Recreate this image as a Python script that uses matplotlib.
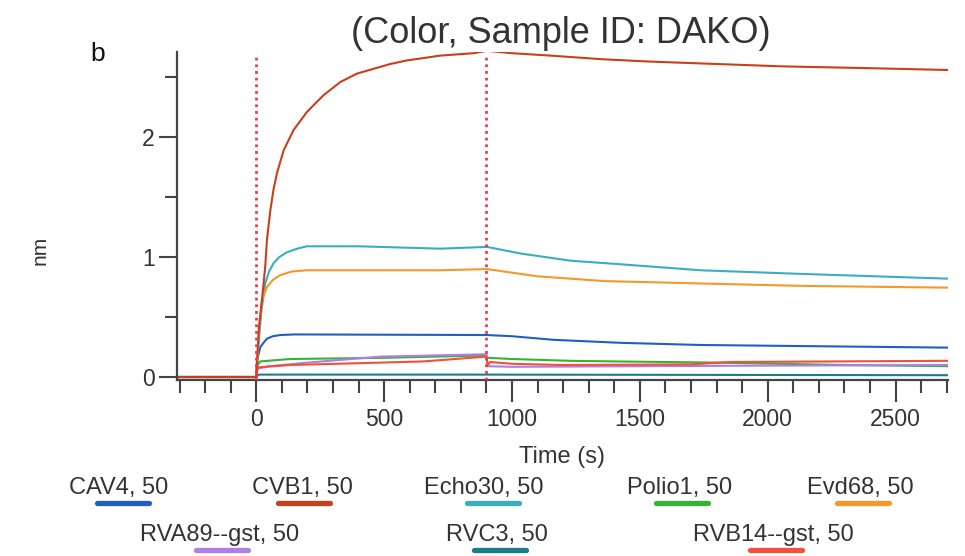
import numpy as np
import matplotlib.pyplot as plt

plt.rcParams['font.family'] = ['Liberation Sans', 'DejaVu Sans']

# values (time in s, response in nm)
cav4_t = [-310, 0, 3, 16, 30, 42, 65, 94, 150, 902, 1000, 1163, 1424, 1737, 2128, 2705]
cav4_y = [0, 0, 0.14, 0.25, 0.29, 0.32, 0.34, 0.35, 0.355, 0.35, 0.34, 0.31, 0.285, 0.267, 0.258, 0.245]

cvb1_t = [-310, 0, 5, 10, 22, 35, 42, 55, 68, 81, 107, 146, 198, 263, 329, 394, 459, 524, 590, 720, 850, 902,
          1000, 1150, 1350, 1541, 1800, 2062, 2400, 2705]
cvb1_y = [0, 0, 0.2, 0.4, 0.64, 0.92, 1.15, 1.39, 1.57, 1.7, 1.89, 2.06, 2.21, 2.35, 2.46, 2.53, 2.57, 2.61, 2.64, 2.68, 2.70, 2.72,
          2.70, 2.68, 2.65, 2.63, 2.61, 2.59, 2.575, 2.56]

echo30_t = [-310, 0, 8, 20, 35, 50, 68, 90, 120, 160, 198, 400, 720, 902, 1033, 1228, 1424, 1737, 2128, 2705]
echo30_y = [0, 0, 0.25, 0.55, 0.78, 0.88, 0.95, 1.0, 1.04, 1.07, 1.09, 1.09, 1.07, 1.085, 1.03, 0.97, 0.94, 0.89, 0.86, 0.82]

polio1_t = [-310, 0, 5, 16, 133, 500, 900, 905, 1000, 1228, 1400, 1800, 2300, 2705]
polio1_y = [0, 0, 0.1, 0.13, 0.15, 0.16, 0.18, 0.16, 0.15, 0.135, 0.13, 0.12, 0.1, 0.09]

evd68_t = [-310, 0, 8, 22, 42, 65, 94, 140, 198, 720, 902, 1098, 1359, 1737, 2128, 2705]
evd68_y = [0, 0, 0.33, 0.64, 0.75, 0.81, 0.85, 0.88, 0.89, 0.89, 0.90, 0.84, 0.80, 0.78, 0.76, 0.745]

rva89_t = [-310, 0, 5, 50, 200, 485, 700, 900, 905, 1000, 1500, 2000, 2705]
rva89_y = [0, 0, 0.07, 0.09, 0.12, 0.17, 0.18, 0.19, 0.09, 0.085, 0.09, 0.095, 0.1]

rvc3_t = [-310, 0, 10, 900, 2705]
rvc3_y = [0, 0, 0.02, 0.02, 0.015]

rvb14_t = [-310, 0, 5, 133, 400, 655, 900, 905, 915, 1000, 1200, 1700, 1850, 2705]
rvb14_y = [0, 0, 0.08, 0.1, 0.115, 0.13, 0.17, 0.1, 0.125, 0.11, 0.1, 0.105, 0.125, 0.135]

step_times = [0, 900]

names = ['CAV4, 50', 'CVB1, 50', 'Echo30, 50', 'Polio1, 50', 'Evd68, 50',
         'RVA89--gst, 50', 'RVC3, 50', 'RVB14--gst, 50']
colors = ['#1f5fc4', '#c8401a', '#3aaec0', '#33b533', '#f5982a',
          '#b07ee8', '#1b7d88', '#f0503c']
series = [(cav4_t, cav4_y), (cvb1_t, cvb1_y), (echo30_t, echo30_y), (polio1_t, polio1_y),
          (evd68_t, evd68_y), (rva89_t, rva89_y), (rvc3_t, rvc3_y), (rvb14_t, rvb14_y)]

fig = plt.figure(figsize=(9.65, 5.56), dpi=100)
ax = fig.add_axes([177/965, 1 - 380/556, (948 - 177)/965, (380 - 52)/556])

draw_order = [6, 0, 2, 4, 3, 5, 7, 1]
for i in draw_order:
    t, y = series[i]
    ax.plot(t, y, color=colors[i], lw=1.5, solid_joinstyle='round')

for st in step_times:
    ax.axvline(st, ymin=0, ymax=0.99, color='#ec3a4e', lw=2.0, ls=(0, (1.0, 1.4)), zorder=5)

ax.set_xlim(-310, 2705)
ax.set_ylim(-0.025, 2.71)
ax.set_xticks([0, 500, 1000, 1500, 2000, 2500])
ax.set_xticks(np.arange(-300, 2701, 100), minor=True)
ax.set_yticks([0, 1, 2])
ax.set_yticks([0.5, 1.5, 2.5], minor=True)

for s in ['top', 'right']:
    ax.spines[s].set_visible(False)
for s in ['left', 'bottom']:
    ax.spines[s].set_color('#444444')
    ax.spines[s].set_linewidth(1.6)

ax.tick_params(axis='x', which='major', length=16, width=1.5, colors='#444444', labelsize=16.5, pad=4, labelcolor='#333333')
ax.tick_params(axis='x', which='minor', length=9.5, width=1.5, colors='#444444')
ax.tick_params(axis='y', which='major', length=13, width=1.5, colors='#444444', labelsize=16.5, pad=3, labelcolor='#333333')
ax.tick_params(axis='y', which='minor', length=9, width=1.5, colors='#444444')

fig.text(561/965, 1 - 43/556, '(Color, Sample ID: DAKO)', ha='center', va='baseline', fontsize=26, color='#333333')
fig.text(98/965, 1 - 61/556, 'b', ha='center', va='baseline', fontsize=19, color='#111111')
fig.text(40/965, 1 - 250/556, 'nm', ha='center', va='center', rotation=90, fontsize=15, color='#333333')
fig.text(562/965, 1 - 457/556, 'Time (s)', ha='center', va='center', fontsize=17, color='#333333')

# legend laid out as two rows of labels with a colour bar under each
text_x = [119, 302, 484, 680, 860, 220, 497, 773]
text_y = [488, 488, 488, 488, 488, 535, 535, 535]
bar_x = [123, 304, 493, 682, 863, 222, 500, 776]
for i in range(len(names)):
    fig.text(text_x[i]/965, 1 - text_y[i]/556, names[i], ha='center', va='center', fontsize=17, color='#333333')
    by = 1 - (text_y[i] + 15)/556
    fig.add_artist(plt.Line2D([(bar_x[i] - 26)/965, (bar_x[i] + 26)/965], [by, by],
                              transform=fig.transFigure, color=colors[i], lw=3.8, solid_capstyle='round'))

fig.savefig('out.png', dpi=100)
